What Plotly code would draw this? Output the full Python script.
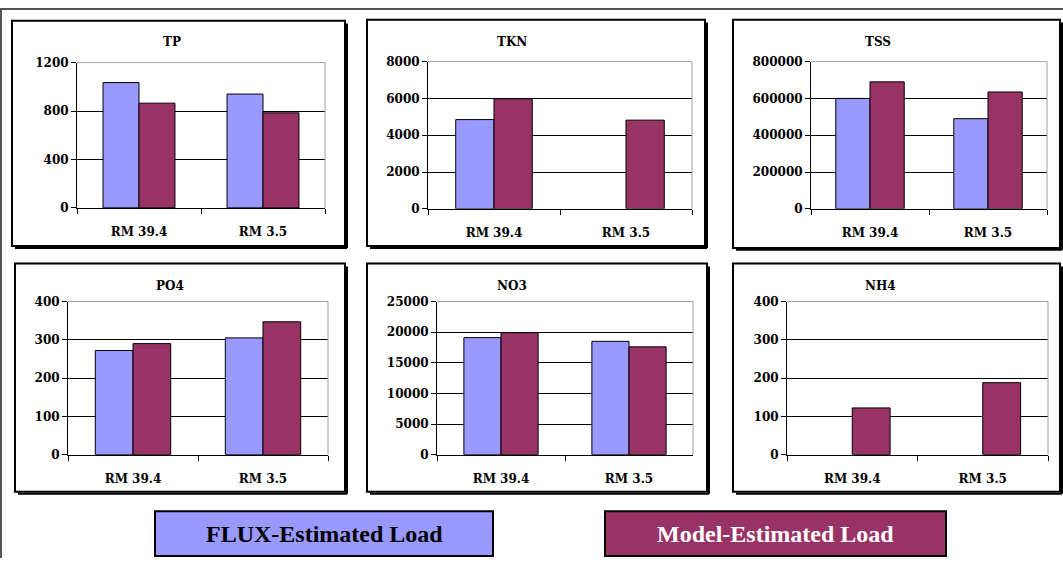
import plotly.graph_objects as go

W, H = 1063, 565

sites = ["RM 39.4", "RM 3.5"]
panel_names = ["TP", "TKN", "TSS", "PO4", "NO3", "NH4"]
flux_tp = [1035, 940]
model_tp = [865, 785]
flux_tkn = [4850, None]
model_tkn = [5980, 4820]
flux_tss = [600000, 490000]
model_tss = [690000, 635000]
flux_po4 = [272, 305]
model_po4 = [290, 347]
flux_no3 = [19100, 18500]
model_no3 = [19900, 17600]
flux_nh4 = [None, None]
model_nh4 = [122, 188]
y_max = [1200, 8000, 800000, 400, 25000, 400]
y_step = [400, 2000, 200000, 100, 5000, 100]

flux_series = [flux_tp, flux_tkn, flux_tss, flux_po4, flux_no3, flux_nh4]
model_series = [model_tp, model_tkn, model_tss, model_po4, model_no3, model_nh4]

FLUX_COLOR = "#9999FF"
MODEL_COLOR = "#993366"
FONT = "DejaVu Serif"
LEGEND_FONT = "Liberation Serif"

# pixel layout of each panel: plot area (x0, x1, ytop, ybottom), box, title position
plot_px = [
    (77, 325, 57, 206), (428, 692, 56, 207), (811, 1047, 56, 207),
    (68, 328, 302, 459), (437, 693, 302, 459), (787, 1048, 302, 459),
]
box_px = [
    (12, 14, 345, 245), (367, 13, 705, 245), (733, 13, 1060, 247),
    (15, 263, 345, 497), (367, 263, 707, 497), (733, 263, 1060, 497),
]
title_px = [(172, 36), (512, 36), (878, 36), (170, 286), (512, 286), (880, 286)]


def px_x(x):
    return x / W


def px_y(y):
    return 1 - y / H


def paper_line(x0, y0, x1, y1, color, width):
    return dict(type="line", xref="paper", yref="paper",
                x0=px_x(x0), x1=px_x(x1), y0=px_y(y0), y1=px_y(y1),
                line=dict(color=color, width=width))


fig = go.Figure()
shapes = []
annotations = []

for i, name in enumerate(panel_names):
    n = "" if i == 0 else str(i + 1)
    xa, ya = "x" + n, "y" + n
    fig.add_trace(go.Bar(
        x=sites, y=flux_series[i], name="FLUX-Estimated Load",
        marker=dict(color=FLUX_COLOR, line=dict(color="black", width=1)),
        xaxis=xa, yaxis=ya, showlegend=False))
    fig.add_trace(go.Bar(
        x=sites, y=model_series[i], name="Model-Estimated Load",
        marker=dict(color=MODEL_COLOR, line=dict(color="black", width=1)),
        xaxis=xa, yaxis=ya, showlegend=False))

    x0, x1, yt, yb = plot_px[i]
    fig.layout["xaxis" + n] = dict(
        domain=[px_x(x0), px_x(x1)], anchor=ya,
        showline=True, linecolor="black", linewidth=1,
        ticks="outside", tickson="boundaries", ticklen=5, tickcolor="black",
        ticklabelstandoff=13,
        tickfont=dict(family=FONT, size=12, color="black", weight="bold"),
        showgrid=False, fixedrange=True)
    fig.layout["yaxis" + n] = dict(
        domain=[px_y(yb), px_y(yt)], anchor=xa,
        range=[0, y_max[i]], dtick=y_step[i], tickformat="d",
        showline=True, linecolor="black", linewidth=1,
        ticks="outside", ticklen=5, tickcolor="black",
        showgrid=True, gridcolor="black", gridwidth=1,
        zeroline=False,
        tickfont=dict(family=FONT, size=12, color="black", weight="bold"),
        fixedrange=True)

    # light grey top/right frame of plot area
    shapes.append(dict(type="line", xref=xa + " domain", yref=ya + " domain",
                       x0=0, x1=1, y0=1, y1=1, line=dict(color="#a0a0a0", width=1)))
    shapes.append(dict(type="line", xref=xa + " domain", yref=ya + " domain",
                       x0=1, x1=1, y0=0, y1=1, line=dict(color="#a0a0a0", width=1)))

    # panel box with a small drop shadow on the right and bottom
    bx0, by0, bx1, by1 = box_px[i]
    shapes.append(dict(type="rect", xref="paper", yref="paper",
                       x0=px_x(bx0), x1=px_x(bx1), y0=px_y(by1), y1=px_y(by0),
                       line=dict(color="black", width=2)))
    shapes.append(paper_line(bx1 + 2, by0 + 3, bx1 + 2, by1 + 2, "black", 2))
    shapes.append(paper_line(bx0 + 3, by1 + 2, bx1 + 2, by1 + 2, "black", 2))

    tx, ty = title_px[i]
    annotations.append(dict(xref="paper", yref="paper", x=px_x(tx), y=px_y(ty),
                            text=name, showarrow=False, xanchor="center", yanchor="middle",
                            font=dict(family=FONT, size=12, color="black", weight="bold")))

# outer frame lines
shapes.append(paper_line(0, 2, W, 2, "#555555", 2))
shapes.append(paper_line(1, 2, 1, H, "#555555", 2))

# legend boxes
legend_items = [
    ("FLUX-Estimated Load", FLUX_COLOR, "black", (155, 517, 493, 563)),
    ("Model-Estimated Load", MODEL_COLOR, "white", (605, 517, 946, 563)),
]
for label, fill, txt_color, (lx0, ly0, lx1, ly1) in legend_items:
    shapes.append(dict(type="rect", xref="paper", yref="paper",
                       x0=px_x(lx0), x1=px_x(lx1), y0=px_y(ly1), y1=px_y(ly0),
                       fillcolor=fill, line=dict(color="black", width=2)))
    annotations.append(dict(xref="paper", yref="paper",
                            x=px_x((lx0 + lx1) / 2), y=px_y((ly0 + ly1) / 2),
                            text="<b>" + label + "</b>", showarrow=False,
                            xanchor="center", yanchor="middle",
                            font=dict(family=LEGEND_FONT, size=24, color=txt_color)))

fig.update_layout(
    width=W, height=H,
    margin=dict(l=0, r=0, t=0, b=0),
    paper_bgcolor="white", plot_bgcolor="white",
    barmode="group", bargap=0.42, bargroupgap=0,
    shapes=shapes, annotations=annotations,
    showlegend=False,
)

# drop the page's default body margin so the figure sits at the window origin
fig.write_html("out.html", config={"displayModeBar": False},
               post_script="document.body.style.margin='0px';")
